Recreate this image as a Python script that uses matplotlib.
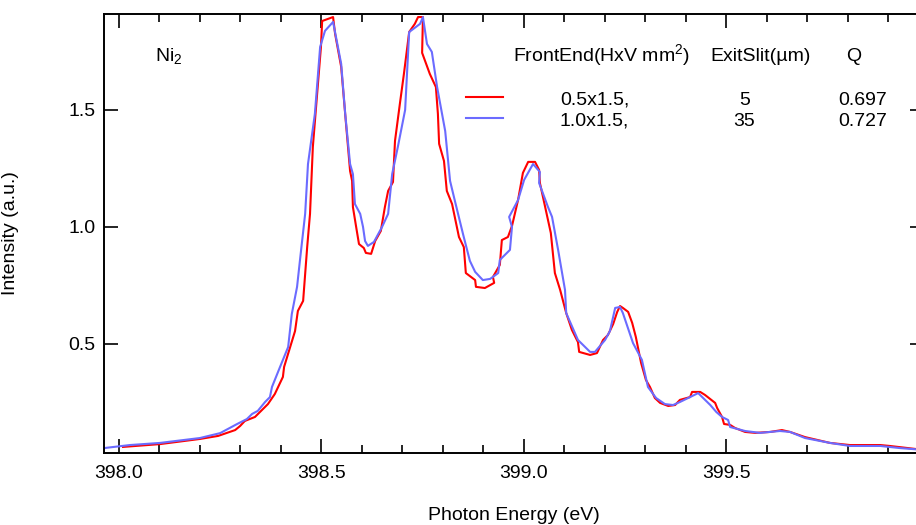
import numpy as np
import matplotlib
matplotlib.use('Agg')
import matplotlib.pyplot as plt
from matplotlib.lines import Line2D
from matplotlib.ticker import MultipleLocator

plt.rcParams['font.family'] = ['Liberation Sans', 'DejaVu Sans']
plt.rcParams['mathtext.fontset'] = 'custom'
plt.rcParams['mathtext.rm'] = 'Liberation Sans'
plt.rcParams['mathtext.it'] = 'Liberation Sans'

# Spectrum 1: front end 0.5x1.5, exit slit 5 um
energy_a = [398.010, 398.101, 398.200, 398.245, 398.287, 398.299, 398.311, 398.336,
            398.368, 398.385, 398.405, 398.408, 398.423, 398.435, 398.442, 398.455,
            398.465, 398.472, 398.479, 398.489, 398.499, 398.502, 398.529, 398.534,
            398.549, 398.561, 398.571, 398.576, 398.578, 398.586, 398.593, 398.605,
            398.610, 398.623, 398.633, 398.647, 398.657, 398.665, 398.677, 398.682,
            398.694, 398.704, 398.717, 398.731, 398.739, 398.751, 398.749, 398.768,
            398.783, 398.788, 398.791, 398.803, 398.810, 398.823, 398.840, 398.852,
            398.857, 398.880, 398.882, 398.904, 398.927, 398.924, 398.941, 398.946,
            398.961, 398.971, 398.986, 398.998, 399.011, 399.028, 399.038, 399.040,
            399.053, 399.067, 399.077, 399.090, 399.105, 399.119, 399.134, 399.137,
            399.164, 399.181, 399.196, 399.208, 399.221, 399.231, 399.238, 399.245,
            399.258, 399.268, 399.277, 399.290, 399.302, 399.312, 399.324, 399.337,
            399.357, 399.374, 399.386, 399.411, 399.416, 399.436, 399.448, 399.473,
            399.478, 399.490, 399.495, 399.510, 399.522, 399.547, 399.572, 399.609,
            399.638, 399.658, 399.695, 399.757, 399.806, 399.881, 399.905, 399.989]
intensity_a = [0.060, 0.072, 0.094, 0.107, 0.132, 0.149, 0.171, 0.188,
               0.243, 0.286, 0.359, 0.402, 0.487, 0.555, 0.641, 0.684,
               0.914, 1.056, 1.342, 1.556, 1.769, 1.880, 1.897, 1.825,
               1.684, 1.440, 1.239, 1.197, 1.085, 1.000, 0.927, 0.910,
               0.889, 0.885, 0.940, 0.983, 1.085, 1.154, 1.192, 1.368,
               1.526, 1.654, 1.833, 1.868, 1.897, 1.897, 1.744, 1.654,
               1.598, 1.483, 1.355, 1.282, 1.154, 1.098, 0.957, 0.914,
               0.803, 0.773, 0.744, 0.739, 0.761, 0.786, 0.838, 0.944,
               0.957, 1.004, 1.115, 1.231, 1.278, 1.278, 1.244, 1.188,
               1.085, 0.974, 0.803, 0.731, 0.632, 0.560, 0.508, 0.466,
               0.453, 0.461, 0.517, 0.538, 0.585, 0.637, 0.662, 0.654,
               0.637, 0.590, 0.530, 0.419, 0.346, 0.316, 0.269, 0.248,
               0.235, 0.239, 0.261, 0.273, 0.295, 0.295, 0.282, 0.248,
               0.226, 0.188, 0.158, 0.154, 0.141, 0.124, 0.120, 0.124,
               0.132, 0.124, 0.102, 0.077, 0.068, 0.068, 0.064, 0.047]

# Spectrum 2: front end 1.0x1.5, exit slit 35 um
energy_b = [397.963, 398.027, 398.101, 398.200, 398.250, 398.292, 398.316, 398.329,
            398.343, 398.361, 398.373, 398.378, 398.398, 398.418, 398.427, 398.440,
            398.447, 398.460, 398.467, 398.484, 398.497, 398.509, 398.529, 398.549,
            398.559, 398.571, 398.578, 398.583, 398.596, 398.603, 398.608, 398.615,
            398.630, 398.650, 398.665, 398.675, 398.689, 398.707, 398.717, 398.744,
            398.751, 398.761, 398.773, 398.786, 398.806, 398.818, 398.830, 398.850,
            398.867, 398.880, 398.899, 398.917, 398.937, 398.941, 398.966, 398.971,
            398.964, 398.986, 399.001, 399.023, 399.040, 399.038, 399.060, 399.070,
            399.085, 399.102, 399.105, 399.134, 399.164, 399.176, 399.201, 399.213,
            399.226, 399.238, 399.245, 399.270, 399.292, 399.307, 399.327, 399.349,
            399.369, 399.386, 399.411, 399.431, 399.461, 399.476, 399.490, 399.505,
            399.510, 399.547, 399.584, 399.633, 399.658, 399.695, 399.757, 399.806,
            399.881, 399.930, 399.989]
intensity_b = [0.055, 0.068, 0.077, 0.098, 0.119, 0.158, 0.179, 0.201,
               0.214, 0.252, 0.273, 0.316, 0.402, 0.487, 0.628, 0.744,
               0.855, 1.056, 1.269, 1.483, 1.769, 1.838, 1.876, 1.697,
               1.483, 1.269, 1.226, 1.098, 1.056, 1.000, 0.940, 0.919,
               0.936, 1.000, 1.056, 1.226, 1.342, 1.500, 1.833, 1.868,
               1.897, 1.782, 1.748, 1.598, 1.410, 1.197, 1.111, 0.970,
               0.855, 0.808, 0.773, 0.778, 0.803, 0.859, 0.902, 1.000,
               1.043, 1.115, 1.201, 1.269, 1.235, 1.188, 1.085, 1.043,
               0.902, 0.731, 0.632, 0.517, 0.466, 0.466, 0.517, 0.555,
               0.654, 0.658, 0.632, 0.504, 0.432, 0.316, 0.269, 0.243,
               0.239, 0.252, 0.273, 0.290, 0.239, 0.209, 0.188, 0.175,
               0.145, 0.128, 0.120, 0.128, 0.124, 0.098, 0.077, 0.064,
               0.064, 0.055, 0.047]

front_end = ['0.5x1.5,', '1.0x1.5,']
exit_slit = ['5', '35']
q_values = ['0.697', '0.727']
colors = ['#ff0000', '#6b6bff']

fig = plt.figure(figsize=(9.16, 5.25), dpi=100)
ax = fig.add_axes([104 / 916, 72 / 525, 820 / 916, 439 / 525])

ax.plot(energy_a, intensity_a, color=colors[0], lw=1.5)
ax.plot(energy_b, intensity_b, color=colors[1], lw=1.5)

ax.set_xlim(397.963, 399.989)
ax.set_ylim(0.034, 1.91)
ax.xaxis.set_major_locator(MultipleLocator(0.5))
ax.xaxis.set_minor_locator(MultipleLocator(0.1))
ax.set_yticks([0.5, 1.0, 1.5])
ax.xaxis.set_major_formatter(matplotlib.ticker.FormatStrFormatter('%.1f'))
ax.yaxis.set_major_formatter(matplotlib.ticker.FormatStrFormatter('%.1f'))

ax.tick_params(which='both', direction='in', top=True, right=True, width=1.2,
               labelsize=14, colors='black')
ax.tick_params(which='major', length=10)
ax.tick_params(which='minor', length=5.5)
ax.tick_params(axis='x', pad=9)
ax.tick_params(axis='y', pad=6)
for s in ax.spines.values():
    s.set_linewidth(1.4)

ax.set_xlabel('Photon Energy (eV)', fontsize=14, labelpad=18)
ax.set_ylabel('Intensity (a.u.)', fontsize=14, labelpad=36)

# annotations
ax.text(0.062, 0.893, 'Ni$_2$', transform=ax.transAxes, fontsize=14, va='baseline')
ax.text(0.4988, 0.893, 'FrontEnd(HxV mm$^2$)', transform=ax.transAxes,
        fontsize=14, va='baseline')
ax.text(0.739, 0.893, 'ExitSlit(\u00b5m)', transform=ax.transAxes, fontsize=14,
        va='baseline')
ax.text(0.905, 0.893, 'Q', transform=ax.transAxes, fontsize=14, va='baseline')

row_y = [0.793, 0.745]
line_y = [0.811, 0.763]
for i in range(2):
    ax.add_line(Line2D([0.4415, 0.4866], [line_y[i], line_y[i]], color=colors[i],
                       lw=1.5, transform=ax.transAxes))
    ax.text(0.556, row_y[i], front_end[i], transform=ax.transAxes, fontsize=14,
            va='baseline')
    ax.text(0.781, row_y[i], exit_slit[i], transform=ax.transAxes, fontsize=14,
            va='baseline', ha='center')
    ax.text(0.895, row_y[i], q_values[i], transform=ax.transAxes, fontsize=14,
            va='baseline')

fig.savefig('out.png', dpi=100)
